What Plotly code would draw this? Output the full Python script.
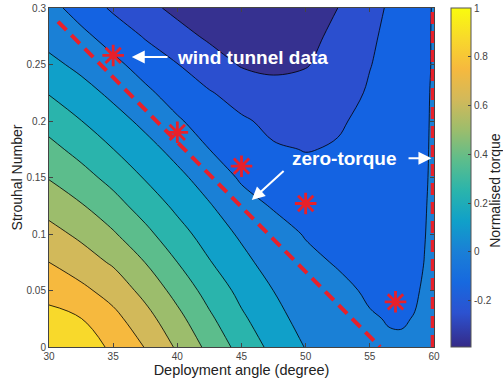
import plotly.graph_objects as go

# ---- data ----
X_GRID = [30, 32.5, 35, 37.5, 40, 42.5, 45, 47.5, 50, 52.5, 55, 56.5, 57.5, 58.5, 59.25, 60]
Y_GRID = [0, 0.025, 0.05, 0.075, 0.1, 0.125, 0.15, 0.175, 0.2, 0.225, 0.25, 0.275, 0.3]

Z_Y000 = [0.99, 0.94, 0.853, 0.745, 0.608, 0.466, 0.33, 0.216, 0.12, 0.07, 0.03, 0.014, 0.014, 0.025, 0.045, 0.07]
Z_Y025 = [0.916, 0.877, 0.787, 0.672, 0.537, 0.397, 0.270, 0.171, 0.076, 0.038, 0.010, -0.006, -0.008, 0.004, 0.03, 0.06]
Z_Y050 = [0.832, 0.779, 0.701, 0.587, 0.457, 0.328, 0.216, 0.124, 0.077, 0.030, -0.017, -0.03, -0.03, -0.012, 0.012, 0.05]
Z_Y075 = [0.75, 0.683, 0.609, 0.498, 0.375, 0.257, 0.162, 0.069, 0.030, -0.01, -0.045, -0.055, -0.055, -0.035, 0.002, 0.04]
Z_Y100 = [0.666, 0.600, 0.513, 0.407, 0.296, 0.196, 0.105, 0.048, -0.008, -0.05, -0.075, -0.083, -0.083, -0.06, -0.005, 0.035]
Z_Y125 = [0.58, 0.510, 0.421, 0.322, 0.223, 0.134, 0.045, -0.010, -0.05, -0.08, -0.095, -0.1, -0.1, -0.08, -0.01, 0.03]
Z_Y150 = [0.493, 0.419, 0.336, 0.241, 0.155, 0.070, -0.015, -0.07, -0.1, -0.11, -0.108, -0.103, -0.098, -0.082, -0.015, 0.025]
Z_Y175 = [0.411, 0.335, 0.251, 0.168, 0.085, 0.0, -0.065, -0.115, -0.128, -0.12, -0.11, -0.102, -0.095, -0.08, -0.02, 0.025]
Z_Y200 = [0.328, 0.252, 0.174, 0.094, 0.013, -0.051, -0.111, -0.15, -0.152, -0.132, -0.11, -0.1, -0.09, -0.07, -0.02, 0.02]
Z_Y225 = [0.243, 0.174, 0.096, 0.022, -0.048, -0.117, -0.17, -0.2, -0.2, -0.165, -0.115, -0.1, -0.09, -0.07, -0.025, 0.02]
Z_Y250 = [0.159, 0.092, 0.027, -0.045, -0.122, -0.192, -0.26, -0.28, -0.258, -0.2, -0.128, -0.1, -0.09, -0.07, -0.03, 0.015]
Z_Y275 = [0.078, 0.027, -0.046, -0.136, -0.207, -0.27, -0.32, -0.34, -0.3, -0.21, -0.14, -0.105, -0.09, -0.07, -0.03, 0.015]
Z_Y300 = [0.035, -0.045, -0.145, -0.216, -0.28, -0.33, -0.36, -0.37, -0.34, -0.25, -0.155, -0.115, -0.095, -0.07, -0.03, 0.012]

# wind tunnel data (red asterisks)
WT_ANGLE = [35, 40, 45, 50, 57]
WT_ST = [0.258, 0.19, 0.16, 0.127, 0.04]

# zero-torque lines (red dashed)
ZT_DIAG_X = [30.7, 55.8]
ZT_DIAG_Y = [0.288, 0.0]
ZT_VERT_X = [59.9, 59.9]
ZT_VERT_Y = [0.0, 0.3]

# contour levels
LEVEL_START, LEVEL_END, LEVEL_STEP = -0.25, 0.875, 0.125
CBAR_MIN, CBAR_MAX = -0.39, 1.0
CBAR_TICKS = [-0.2, 0, 0.2, 0.4, 0.6, 0.8, 1]

# ---- colours ----
BAND_COLORS = ["#363190", "#2b4fcf", "#1463e2", "#1a80d6", "#10a0c9", "#2ab4ac",
               "#5cbd8c", "#9cbd6c", "#d2b95a", "#f6b93e", "#f8d92b"]
band_scale = [[i / (len(BAND_COLORS) - 1), c] for i, c in enumerate(BAND_COLORS)]

CBAR_VALUES = [-0.39, -0.25, -0.125, 0, 0.125, 0.25, 0.375, 0.5, 0.625, 0.75, 0.875, 1.0]
CBAR_COLORS = ["#352a87", "#2c52d0", "#1769df", "#1a7fd6", "#10a0c9", "#2ab4ac",
               "#5cbd8c", "#9cbd6c", "#d2b95a", "#f6b93e", "#f8d92b", "#f9fb0e"]
cbar_scale = [[(v - CBAR_MIN) / (CBAR_MAX - CBAR_MIN), c] for v, c in zip(CBAR_VALUES, CBAR_COLORS)]

Z = [Z_Y000, Z_Y025, Z_Y050, Z_Y075, Z_Y100, Z_Y125, Z_Y150, Z_Y175,
     Z_Y200, Z_Y225, Z_Y250, Z_Y275, Z_Y300]

RED = "#e8202a"
FONT = "Arial, Liberation Sans, Helvetica, sans-serif"

fig = go.Figure()

fig.add_trace(go.Contour(
    x=X_GRID, y=Y_GRID, z=Z,
    autocontour=False,
    contours=dict(start=LEVEL_START, end=LEVEL_END, size=LEVEL_STEP,
                  coloring="fill", showlines=True),
    colorscale=band_scale,
    line=dict(color="black", width=0.8, smoothing=1.1),
    showscale=False, hoverinfo="skip",
))

# continuous colour bar
fig.add_trace(go.Scatter(
    x=[45], y=[0.15], mode="markers",
    marker=dict(size=1, opacity=0, color=[0], colorscale=cbar_scale,
                cmin=CBAR_MIN, cmax=CBAR_MAX, showscale=True,
                colorbar=dict(x=1.044, xanchor="left", y=0.5, yanchor="middle",
                              len=1.0, lenmode="fraction", thickness=20,
                              xpad=0, ypad=0, ticklabeloverflow="allow",
                              outlinecolor="#555555", outlinewidth=1,
                              tickvals=CBAR_TICKS,
                              ticktext=[str(v) for v in CBAR_TICKS],
                              ticks="inside", ticklen=3, tickcolor="#444444",
                              tickfont=dict(size=10, color="#444444", family=FONT))),
    hoverinfo="skip", showlegend=False,
))

fig.add_trace(go.Scatter(x=ZT_DIAG_X, y=ZT_DIAG_Y, mode="lines",
                         line=dict(color=RED, width=4, dash="12px,7px"),
                         hoverinfo="skip", showlegend=False))
fig.add_trace(go.Scatter(x=ZT_VERT_X, y=ZT_VERT_Y, mode="lines",
                         line=dict(color=RED, width=4, dash="12px,7px"),
                         hoverinfo="skip", showlegend=False))

fig.add_trace(go.Scatter(x=WT_ANGLE, y=WT_ST, mode="markers",
                         marker=dict(symbol="asterisk-open", size=18, color=RED,
                                     line=dict(color=RED, width=2.8)),
                         hoverinfo="skip", showlegend=False))

# annotations
ann_font = dict(family=FONT, size=19, color="white")
fig.add_annotation(x=39.85, y=0.2566, xref="x", yref="y", text="<b>wind tunnel data</b>",
                   showarrow=False, xanchor="left", yanchor="middle", font=ann_font)
fig.add_annotation(x=36.45, y=0.2566, ax=39.35, ay=0.2566, xref="x", yref="y",
                   axref="x", ayref="y", text="", showarrow=True,
                   arrowhead=2, arrowsize=1.3, arrowwidth=2, arrowcolor="white")
fig.add_annotation(x=48.75, y=0.167, xref="x", yref="y", text="<b>zero-torque</b>",
                   showarrow=False, xanchor="left", yanchor="middle", font=ann_font)
fig.add_annotation(x=59.8, y=0.167, ax=57.9, ay=0.167, xref="x", yref="y",
                   axref="x", ayref="y", text="", showarrow=True,
                   arrowhead=2, arrowsize=1.3, arrowwidth=2, arrowcolor="white")
fig.add_annotation(x=45.8, y=0.130, ax=48.4, ay=0.157, xref="x", yref="y",
                   axref="x", ayref="y", text="", showarrow=True,
                   arrowhead=2, arrowsize=1.3, arrowwidth=2, arrowcolor="white")

# colour bar title
fig.add_annotation(x=1.158, y=0.463, xref="paper", yref="paper", text="Normalised torque",
                   textangle=-90, showarrow=False, xanchor="center", yanchor="middle",
                   font=dict(family=FONT, size=14, color="#222222"))

axis_common = dict(showline=True, linecolor="#444444", linewidth=1, mirror="ticks",
                   ticks="inside", ticklen=4, tickcolor="#444444", showgrid=False,
                   zeroline=False, automargin=False, ticklabeloverflow="allow",
                   tickfont=dict(size=10, color="#444444", family=FONT))
fig.update_xaxes(range=[30, 60], tickvals=[30, 35, 40, 45, 50, 55, 60],
                 title=dict(text="Deployment angle (degree)", standoff=2,
                            font=dict(size=14.5, color="#222222", family=FONT)),
                 **axis_common)
fig.update_yaxes(range=[0, 0.3], tickvals=[0, 0.05, 0.1, 0.15, 0.2, 0.25, 0.3],
                 ticktext=["0", "0.05", "0.1", "0.15", "0.2", "0.25", "0.3"],
                 title=dict(text="Strouhal Number", standoff=0,
                            font=dict(size=14, color="#222222", family=FONT)),
                 **axis_common)

fig.update_layout(width=503, height=381, margin=dict(l=49, r=69, t=8, b=34, autoexpand=False),
                  paper_bgcolor="white", plot_bgcolor="white",
                  font=dict(family=FONT), showlegend=False, hovermode=False)

# remove the browser's default page margin so the figure sits at the window corner
fig.write_html("out.html", config={"displayModeBar": False, "staticPlot": True},
               post_script="document.body.style.margin='0px';")
